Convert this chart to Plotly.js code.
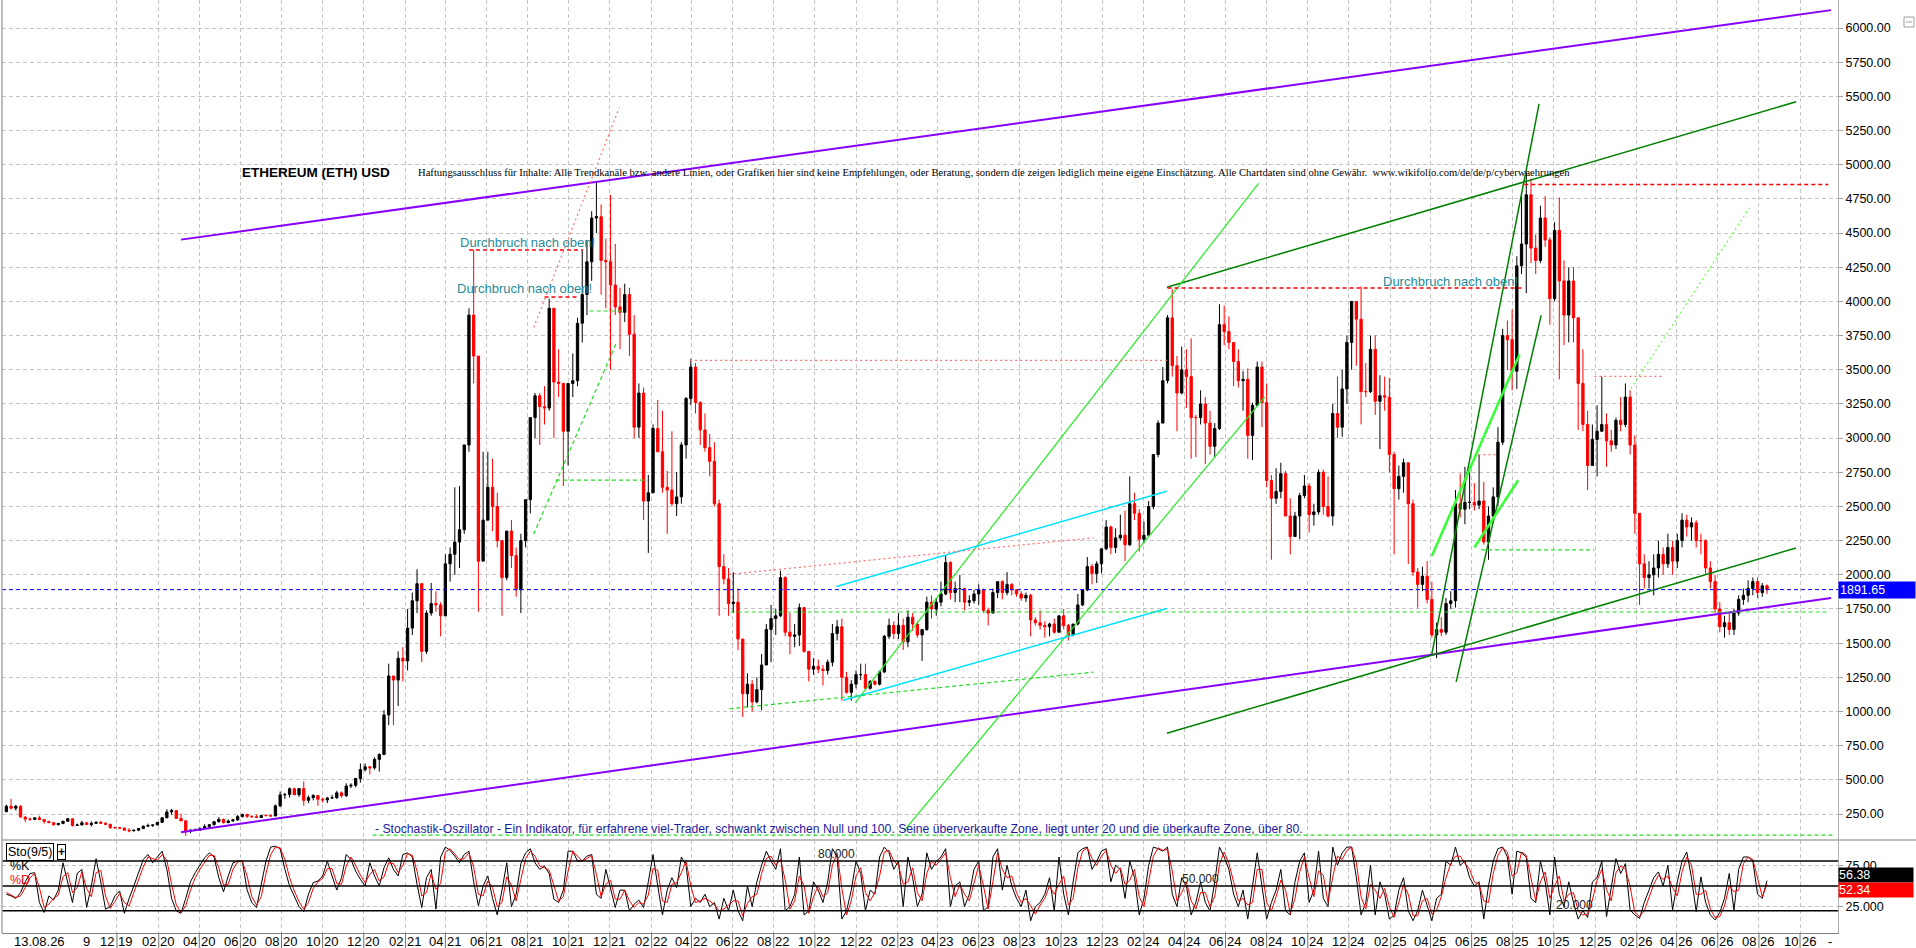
<!DOCTYPE html>
<html>
<head>
<meta charset="utf-8">
<script src="https://cdn.plot.ly/plotly-3.0.1.min.js"></script>
<style>html,body{margin:0;padding:0;background:#fff;} #chart{width:1916px;height:948px;}</style>
</head>
<body>
<div id="chart"></div>
<script>
// ETH/USD weekly bars (Mon-Sun week, drawn on its Thursday)
const firstWeek = '2019-06-20';
const firstOpen = 268;
const weekHigh = [
 318,361,316,315,233,225,223,237,214,200,192,185,200,222,218,180,200,190,196,193,198,190,177,159,152,151,147,133,145,
 166,180,172,189,224,285,287,280,254,202,140,145,150,175,175,198,227,216,210,215,244,253,251,240,246,240,248,245,320,415,405,445,442,440,488,385,396,385,370,375,390,420,415,475,475,515,620,620,600,665,695,1010,
 1350,1260,1440,1470,1750,1870,2040,1940,1740,1940,1880,1800,2150,2200,2640,2650,2950,3950,4380,3600,2900,2900,2850,2600,2250,2300,2400,2200,2300,2550,3150,3330,3330,3380,4020,3950,3650,3400,3400,3620,3880,4370,4450,4660,4870,4710,4460,4780,4420,4100,4130,4100,
 3900,3400,3370,2730,3100,3280,3200,2760,3050,2750,2970,3300,3580,3550,3270,3180,3030,2970,2550,2150,2050,2020,1900,1530,1280,1230,1250,1420,1640,1780,1750,2030,1990,1720,1640,1790,1760,1440,1390,1380,1340,1380,1640,1670,1680,1290,1230,1300,1350,1350,1230,1230,
 1300,1560,1680,1660,1720,1680,1740,1720,1660,1600,1840,1850,1830,1950,2140,2100,1950,2000,1900,1850,1890,1930,1900,1760,1900,1950,1960,2020,1940,1880,1880,1870,1860,1690,1740,1660,1650,1680,1700,1750,1640,1640,1860,1880,2130,2080,2100,2190,2400,2360,2340,2440,
 2470,2720,2600,2480,2390,2540,2880,3130,3520,3900,4090,3600,3670,3650,3730,3170,3350,3300,3200,3110,3980,3970,3890,3700,3650,3490,3510,3260,3560,3560,3400,2730,2780,2820,2760,2560,2460,2600,2730,2670,2520,2770,2770,2720,3250,3450,3500,3750,4000,4000,4110,3550,3750,
 3750,3460,3450,3440,2900,2800,2850,2820,2550,2050,2060,2100,1950,1650,1690,1830,1880,2620,2740,2790,2790,2670,2880,2680,2500,2640,3080,3800,3860,3940,4330,4790,4950,4900,4490,4700,4770,4470,4580,4760,4300,4250,4250,3880,3650,3200,3100,3240,3450,3180,3060,3150,
 3300,3400,3350,3020,2450,2150,2100,2150,2250,2200,2300,2250,2300,2450,2440,2420,2400,2300,2260,2100,2000,1800,1700,1720,1750,1850,1900,1960,1980,1980,1940,1930
];
const weekLow = [
 262,282,275,225,190,200,205,205,180,185,164,168,175,195,158,165,167,172,158,177,181,172,140,143,143,130,117,123,125,
 140,157,155,167,185,220,245,215,198,90,110,125,126,145,145,166,187,180,183,195,200,225,220,225,220,223,236,230,234,300,360,370,390,375,310,330,350,310,335,330,360,360,370,375,440,445,480,560,540,575,560,690,
 900,900,1040,1220,1300,1560,1720,1360,1420,1700,1730,1550,1700,1950,2000,2050,2300,2900,3400,1730,2100,2400,2320,2200,1700,1960,2050,1840,1720,2200,2450,3000,2950,3100,3200,3000,3300,2650,2800,3300,3380,3700,3900,4150,4500,4050,3950,3500,3900,3650,3850,3600,
 3000,3000,2400,2160,2600,2900,2600,2300,2500,2430,2520,2850,3240,3180,2950,2900,2720,2500,1700,1930,1700,1720,1450,960,1030,1000,1060,1010,1340,1360,1560,1690,1550,1420,1470,1480,1430,1220,1270,1280,1190,1270,1330,1520,1080,1130,1080,1170,1230,1160,1160,1190,
 1190,1280,1530,1530,1530,1450,1470,1590,1540,1370,1590,1680,1700,1770,1850,1820,1800,1800,1740,1770,1790,1780,1720,1630,1720,1830,1820,1850,1850,1840,1810,1800,1550,1630,1600,1540,1550,1570,1580,1600,1520,1550,1630,1770,1880,1930,1940,2010,2180,2150,2160,2250,
 2100,2210,2400,2170,2230,2290,2480,2860,3110,3400,3450,3050,3320,3220,2850,2860,3100,2810,2880,2860,3060,3680,3650,3380,3370,3200,2850,2840,3240,3080,2640,2110,2520,2560,2430,2150,2280,2260,2560,2310,2360,2440,2440,2420,2360,3000,3010,3250,3500,3530,3100,3300,3330,
 3170,2920,3200,2750,2150,2550,2600,2080,1990,1760,1880,1790,1540,1390,1550,1560,1750,1760,2420,2370,2480,2470,2480,2220,2110,2390,2500,2950,3500,3350,3360,4200,4060,4280,4200,4280,4400,3830,4000,3430,3680,3700,3700,3060,3050,2620,2800,2720,3050,2790,2900,2920,
 3050,3080,2880,2300,1780,1900,1900,1850,1980,2000,2050,2000,2050,2200,2280,2250,2200,2150,2000,1900,1720,1580,1540,1560,1560,1700,1780,1800,1850,1830,1840,1860
];
const weekClose = [
 307,293,307,228,213,211,222,210,196,187,172,181,197,215,166,170,186,173,182,190,183,175,151,150,147,132,127,132,144,
 161,166,170,189,223,265,275,218,200,123,131,132,145,158,172,194,211,187,199,207,231,247,233,230,225,240,238,236,310,390,392,435,391,436,350,370,385,358,353,367,369,405,384,455,460,510,575,595,588,650,685,975,
 1260,1230,1390,1370,1610,1810,1935,1440,1720,1790,1780,1700,2080,2150,2240,2330,2950,3900,3600,2100,2400,2640,2500,2250,1980,2320,2140,1890,2250,2550,3150,3310,3230,3220,3950,3410,3400,3050,3400,3420,3840,4050,4290,4610,4620,4300,4290,4120,3960,3920,4050,3760,
 3080,3330,2540,2600,3070,2900,2640,2620,2520,2570,2950,3290,3520,3260,3060,2930,2830,2520,2060,1970,1790,1800,1530,1130,1200,1070,1160,1340,1600,1680,1700,1980,1580,1550,1560,1760,1440,1310,1330,1310,1300,1360,1570,1620,1250,1140,1200,1270,1270,1170,1220,1200,
 1290,1550,1630,1570,1630,1510,1690,1640,1560,1600,1800,1750,1800,1860,2090,1870,1900,1900,1800,1810,1860,1890,1740,1720,1870,1950,1870,1930,1890,1860,1830,1850,1670,1650,1630,1620,1640,1580,1700,1630,1560,1640,1780,1890,2060,2010,2080,2190,2350,2200,2270,2290,
 2220,2520,2450,2260,2290,2500,2880,3110,3420,3880,3530,3330,3500,3450,3150,3150,3250,3110,2940,3070,3830,3780,3700,3560,3420,3430,3020,3240,3520,3260,2690,2560,2610,2740,2430,2280,2430,2580,2650,2440,2460,2750,2500,2430,3180,3080,3360,3700,4000,3870,3340,3340,3650,
 3270,3310,3300,2880,2630,2720,2820,2520,2020,1930,1990,1820,1560,1600,1580,1790,1810,2520,2480,2530,2530,2510,2540,2240,2430,2570,2970,3750,3720,3490,4260,4420,4780,4390,4300,4610,4450,4020,4520,4150,3900,4150,3880,3400,3100,2800,2990,3050,3100,2980,2950,3130,
 3100,3300,2950,2450,2080,1980,2000,2050,2150,2080,2200,2100,2250,2400,2350,2380,2250,2250,2050,1950,1750,1620,1650,1600,1720,1820,1850,1900,1950,1870,1920,1891.65
];

// Stochastic (9/5), one reading per week
const stochK = [
 40,38,35,42,55,65,66,30,18,38, 33,45,78,55,30,65,70,24,50,83, 55,22,25,38,44,17,35,50,65,82, 88,78,85,92,70,35,20,17,35,55,
 66,75,84,90,85,60,43,62,78,80, 80,45,30,24,50,80,97,98,95,70, 50,38,25,19,40,54,56,62,80,62, 45,60,88,82,68,58,50,78,62,50,
 72,84,70,62,88,90,85,52,24,60, 70,22,85,97,93,86,78,88,92,55, 26,50,62,35,15,45,78,25,40,77, 90,95,78,70,74,65,34,30,45,92,
 92,80,80,86,88,40,35,70,45,24, 45,45,20,28,33,24,55,88,50,15, 45,60,48,85,75,25,35,
 30,40,25,30,10,35,20,45,20,8, 50,25,55,75,92,80,70,95,20,25, 40,85,15,20,55,45,30,55,95,85, 10,20,45,80,65,20,45,40,
 85,97,90,70,80,25,85,60,25,40, 90,70,80,85,95,25,50,55,25,40, 70,80,20,25,85,95,45,75,50,35, 25,45,8,25,30,40,60,20,85,40, 15,55,90,95,97,70,80,92,95,55, 75,70,
 35,80,60,15,35,75,97,95,92,97, 40,25,60,50,15,30,55,30,20,55, 97,85,70,40,25,45,10,50,90,50, 10,30,45,70,20,15,55,80,90,30, 45,92,35,25,97,75,90,97,97,60, 15,30,75,
 15,55,40,10,15,45,60,20,8,20, 45,25,8,35,40,80,75,97,75,80, 60,50,55,10,50,80,95,97,85,40, 92,90,85,35,30,80,55,15,85,40, 25,55,30,10,20,12,55,60,80,13, 50,83,
 65,77,21,15,11,30,45,60,67,50, 75,21,55,80,91,60,19,61,30,15, 9,18,35,65,21,70,85,85,80,40, 35,56.38
];
const stochD = [
 42,39,36,38,48,60,65,48,24,28, 35,39,61,66,42,48,67,47,37,66, 69,38,23,31,41,30,26,42,57,73, 85,83,81,88,81,52,27,18,26,45,
 60,70,79,87,87,72,51,52,70,79, 80,62,37,27,37,65,88,97,96,82, 60,44,31,22,30,47,55,59,71,71, 53,52,74,85,75,63,54,64,70,56,
 61,78,77,66,75,89,87,68,38,42, 65,46,53,91,95,89,82,83,90,73, 40,38,56,48,25,30,61,51,32,58, 83,92,86,74,72,69,50,32,37,68,
 92,86,80,83,87,64,37,52,57,34, 34,45,32,24,30,28,39,71,69,32, 30,52,54,66,80,50,30,
 32,35,32,27,20,22,27,32,32,14, 29,37,40,65,83,86,75,82,57,22, 32,62,50,17,37,50,37,42,75,90, 47,15,32,62,72,42,32,42,
 62,91,93,80,75,52,55,72,42,32, 65,80,75,82,90,60,37,52,40,32, 55,75,50,22,55,90,70,60,62,42, 30,35,26,16,27,35,50,40,52,62, 27,35,72,92,96,83,75,86,93,75, 65,72,
 52,57,70,37,25,55,86,96,93,94, 68,32,42,55,32,22,42,42,25,37, 76,91,77,55,32,35,27,30,70,70, 30,20,37,57,45,17,35,67,85,60, 37,68,63,30,61,86,82,93,97,78, 37,22,52,
 45,35,47,25,12,30,52,40,14,14, 32,35,16,21,37,60,77,86,86,77, 70,55,52,32,30,65,87,96,91,62, 66,91,87,60,32,55,67,35,50,62, 32,40,42,20,15,16,33,57,70,46, 32,66,
 74,71,49,18,13,20,37,52,63,58, 62,48,38,67,85,75,40,40,45,22, 12,13,26,50,43,45,77,85,82,60, 37,52.34
];
const stochLevels = [20, 50, 80];

const xTickDates = ['2019-12-01','2020-02-01','2020-04-01','2020-06-01','2020-08-01','2020-10-01','2020-12-01',
 '2021-02-01','2021-04-01','2021-06-01','2021-08-01','2021-10-01','2021-12-01','2022-02-01','2022-04-01','2022-06-01','2022-08-01','2022-10-01','2022-12-01',
 '2023-02-01','2023-04-01','2023-06-01','2023-08-01','2023-10-01','2023-12-01','2024-02-01','2024-04-01','2024-06-01','2024-08-01','2024-10-01','2024-12-01',
 '2025-02-01','2025-04-01','2025-06-01','2025-08-01','2025-10-01','2025-12-01','2026-02-01','2026-04-01','2026-06-01','2026-08-01','2026-10-01'];
const xTickText = ['12 19','02 20','04 20','06 20','08 20','10 20','12 20',
 '02 21','04 21','06 21','08 21','10 21','12 21','02 22','04 22','06 22','08 22','10 22','12 22',
 '02 23','04 23','06 23','08 23','10 23','12 23','02 24','04 24','06 24','08 24','10 24','12 24',
 '02 25','04 25','06 25','08 25','10 25','12 25','02 26','04 26','06 26','08 26','10 26'];

// hand-drawn trend lines: start / end (date, price) and kind
const trendFrom    = ['2020-03-05','2020-03-05','2024-03-06','2024-03-06','2025-04-03','2025-05-09','2025-04-03','2025-06-05','2022-11-30','2023-02-10','2022-11-02','2022-11-12',
 '2021-05-06','2021-08-26','2024-03-07','2025-08-18','2022-03-30','2022-05-27','2021-08-10','2021-08-10','2021-09-12','2021-11-01','2022-05-27','2022-05-29','2025-06-15','2020-12-14','2026-01-23','2025-11-30','2025-06-11'];
const trendFromVal = [4452,117,4104,841,1422,1217,2137,2200,1065,126,1914,1082,
 4376,4032,4098,4855,3568,2003,3809,2298,2692,3930,1020,1728,2182,96,3362,3451,2879];
const trendTo      = ['2026-11-16','2026-11-16','2026-09-25','2026-09-25','2025-09-09','2025-09-12','2025-08-11','2025-08-09','2024-07-20','2024-07-29','2024-03-06','2024-03-06',
 '2021-10-22','2021-10-14','2025-08-14','2026-11-12','2024-03-06','2023-11-18','2021-12-15','2021-12-11','2022-01-26','2021-12-19','2023-11-18','2026-11-14','2025-11-30','2026-11-18','2026-07-18','2026-03-10','2025-07-08'];
const trendToVal   = [6131,1830,5460,2196,5445,3898,3612,2692,4864,3300,2611,1753,
 4376,4032,4098,4855,3568,2271,5418,3702,2692,3930,1288,1728,2182,96,4685,3451,2879];
const trendKind    = ['purple','purple','dkgreen','dkgreen','dkgreen','dkgreen','limeThick','limeThick','lime','lime','cyan','cyan',
 'redDash','redDash','redDash','redDash','pinkDot','pinkDot','pinkDot','greenDash','greenDash','greenDash','greenDash','greenDash','greenDash','greenDash','limeDot','pinkDot','pinkDot'];

const titleText = 'ETHEREUM (ETH) USD';
const disclaimer = 'Haftungsausschluss für Inhalte: Alle Trendkanäle bzw. andere Linien, oder Grafiken hier sind keine Empfehlungen, oder Beratung, sondern die zeigen lediglich meine eigene Einschätzung. Alle Chartdaten sind ohne Gewähr.  www.wikifolio.com/de/de/p/cyberwaehrungen';
const stochNote = '- Stochastik-Oszillator - Ein Indikator, für erfahrene viel-Trader, schwankt zwischen Null und 100. Seine überverkaufte Zone, liegt unter 20 und die überkaufte Zone, über 80.';
const breakoutText = 'Durchbruch nach oben!';
const breakoutAt = [['2021-08-01', 4434], ['2021-07-28', 4098], ['2025-05-01', 4149]];

const lineStyles = {
  purple: {color: '#8800ff', width: 2},
  dkgreen: {color: '#008000', width: 1.5},
  lime: {color: '#22ee22', width: 1.2},
  limeThick: {color: '#33ff33', width: 2.5},
  cyan: {color: '#00e0ff', width: 1.5},
  redDash: {color: '#ff0000', width: 1.5, dash: '4px,3px'},
  pinkDot: {color: '#ff7070', width: 1.2, dash: '2px,3px'},
  greenDash: {color: '#22dd22', width: 1.2, dash: '4px,3px'},
  limeDot: {color: '#66ff44', width: 1.2, dash: '2px,3px'}
};

const weekDates = weekClose.map((_, i) => new Date(Date.parse(firstWeek) + i * 7 * 864e5).toISOString().slice(0, 10));
const weekOpen = weekClose.map((c, i) => i === 0 ? firstOpen : weekClose[i - 1]);
const lastClose = weekClose[weekClose.length - 1];
if (weekHigh.length !== weekClose.length || weekLow.length !== weekClose.length || stochK.length !== weekClose.length || stochD.length !== weekClose.length)
  console.error('length mismatch', weekHigh.length, weekLow.length, weekClose.length, stochK.length, stochD.length);

// pixel helpers for the fixed decorations (plot area: x 2..1838, y 0..933)
const px = p => (p - 2) / 1836;
const py = p => (933 - p) / 933;
const splitY = 93 / 933;

const traces = [
  {type: 'candlestick', x: weekDates, open: weekOpen, high: weekHigh, low: weekLow, close: weekClose, xaxis: 'x', yaxis: 'y',
   increasing: {line: {color: '#000000', width: 1}, fillcolor: '#000000'},
   decreasing: {line: {color: '#ff0000', width: 1}, fillcolor: '#ff0000'},
   whiskerwidth: 0, hoverinfo: 'skip'},
  {type: 'scatter', mode: 'lines', x: weekDates, y: stochK, xaxis: 'x', yaxis: 'y2', line: {color: '#000000', width: 1}, hoverinfo: 'skip'},
  {type: 'scatter', mode: 'lines', x: weekDates, y: stochD, xaxis: 'x', yaxis: 'y2', line: {color: '#ff0000', width: 1}, hoverinfo: 'skip'}
];

const shapes = [];
trendFrom.forEach((d, i) => {
  const s = lineStyles[trendKind[i]];
  shapes.push({type: 'line', xref: 'x', yref: 'y', x0: d, y0: trendFromVal[i], x1: trendTo[i], y1: trendToVal[i], layer: 'above',
    line: {color: s.color, width: s.width, dash: s.dash || 'solid'}});
});
shapes.push({type: 'line', xref: 'paper', yref: 'y', x0: 0, x1: 1, y0: lastClose, y1: lastClose, line: {color: '#0000ff', width: 1, dash: '4px,3px'}});
stochLevels.forEach(v => shapes.push({type: 'line', xref: 'paper', yref: 'y2', x0: 0, x1: 1, y0: v, y1: v, line: {color: '#000000', width: 1.5}}));
shapes.push({type: 'line', xref: 'paper', yref: 'paper', x0: 0, x1: px(1916), y0: splitY, y1: splitY, line: {color: '#a8a8a8', width: 1.5}});
shapes.push({type: 'line', xref: 'paper', yref: 'paper', x0: 0, x1: 0, y0: 0, y1: 1, line: {color: '#a8a8a8', width: 1.5}});
xTickDates.forEach(d => shapes.push({type: 'line', xref: 'x', yref: 'paper', x0: d, x1: d, y0: py(948), y1: 0, line: {color: '#707070', width: 1}}));
shapes.push({type: 'rect', xref: 'paper', yref: 'paper', x0: px(1904), x1: px(1914), y0: py(27), y1: py(17), line: {color: '#a0a0a0', width: 1}});
shapes.push({type: 'line', xref: 'paper', yref: 'paper', x0: px(1906), x1: px(1912), y0: py(22), y1: py(22), line: {color: '#a0a0a0', width: 1}});

const note = (text, x, y, extra) => Object.assign({text, xref: 'paper', yref: 'paper', x, y, xanchor: 'left', yanchor: 'middle', showarrow: false}, extra);
const annotations = [
  note('<b>' + titleText + '</b>', px(240), py(173), {font: {size: 13.5, color: '#000'}}),
  note(disclaimer, px(416), py(173), {font: {family: 'Liberation Serif, Times New Roman, serif', size: 10.6, color: '#000'}}),
  note(stochNote, px(373), py(829), {font: {size: 12.2, color: '#1c1ca0'}}),
  note('Sto(9/5)', px(6), py(852), {font: {size: 12.5}, bordercolor: '#000', borderwidth: 1, borderpad: 1, bgcolor: '#fff'}),
  note('<b>+</b>', px(57), py(852), {font: {size: 12}, bordercolor: '#000', borderwidth: 1, borderpad: 0, bgcolor: '#fff'}),
  note('%K', px(8), py(866), {font: {size: 12.5, color: '#000'}}),
  note('%D', px(8), py(880), {font: {size: 12.5, color: '#ff0000'}}),
  note('13.08.26', px(12), py(941), {font: {size: 13}}),
  note('9', px(81), py(941), {font: {size: 13}}),
  note('-', px(1826), py(941), {font: {size: 13}}),
  {text: '80.000', xref: 'paper', yref: 'y2', x: px(836), y: 80, yshift: 7, xanchor: 'center', showarrow: false, font: {size: 12, color: '#222'}},
  {text: '50.000', xref: 'paper', yref: 'y2', x: px(1200), y: 50, yshift: 7, xanchor: 'center', showarrow: false, font: {size: 12, color: '#222'}},
  {text: '20.000', xref: 'paper', yref: 'y2', x: px(1574), y: 20, yshift: 6, xanchor: 'center', showarrow: false, font: {size: 12, color: '#222'}},
  {text: lastClose.toFixed(2), xref: 'paper', yref: 'y', x: 1, y: lastClose, xanchor: 'left', yanchor: 'middle', showarrow: false,
   bgcolor: '#0000ff', font: {size: 12.5, color: '#ffffff'}, width: 74, align: 'left', borderpad: 1},
  {text: stochK[stochK.length - 1].toFixed(2), xref: 'paper', yref: 'y2', x: 1, y: stochK[stochK.length - 1], yshift: 6, xanchor: 'left', yanchor: 'middle', showarrow: false,
   bgcolor: '#000000', font: {size: 12.5, color: '#ffffff'}, width: 74, align: 'left', borderpad: 0},
  {text: stochD[stochD.length - 1].toFixed(2), xref: 'paper', yref: 'y2', x: 1, y: stochD[stochD.length - 1], yshift: -6, xanchor: 'left', yanchor: 'middle', showarrow: false,
   bgcolor: '#ff0000', font: {size: 12.5, color: '#ffffff'}, width: 74, align: 'left', borderpad: 0}
];
// x tick labels drawn as notes so they sit inside the 15px strip under the panels
xTickDates.forEach((d, i) => annotations.push({text: xTickText[i], xref: 'x', yref: 'paper', x: d, y: py(941), xanchor: 'center', yanchor: 'middle',
  showarrow: false, font: {size: 13, color: '#000'}}));
breakoutAt.forEach(([d, v]) => annotations.push({text: breakoutText, xref: 'x', yref: 'y', x: d, y: v, xanchor: 'center', yanchor: 'middle', showarrow: false,
  font: {size: 13, color: '#1f8b9b'}}));

const grid = {showgrid: true, gridcolor: '#c4c4c4', griddash: '4px,3px', gridwidth: 1, zeroline: false, fixedrange: true};
const layout = {
  width: 1916, height: 948,
  margin: {l: 2, r: 78, t: 0, b: 15},
  paper_bgcolor: '#ffffff', plot_bgcolor: '#ffffff',
  showlegend: false,
  font: {family: 'Liberation Sans, Arial, sans-serif', size: 13, color: '#000'},
  xaxis: Object.assign({}, grid, {type: 'date', range: ['2019-06-13 12:00', '2026-11-26 07:00'], anchor: 'y2',
    tickvals: xTickDates, showticklabels: false, ticks: '', showline: true, linecolor: '#808080',
    rangeslider: {visible: false}}),
  yaxis: Object.assign({}, grid, {domain: [splitY, 1], side: 'right', anchor: 'x', range: [60, 6205], tick0: 0, dtick: 250, tickformat: '.2f',
    ticks: 'outside', ticklen: 4, tickcolor: '#a0a0a0', showline: true, linecolor: '#b0b0b0', tickfont: {size: 12.5}}),
  yaxis2: Object.assign({}, grid, {domain: [0, splitY], side: 'right', anchor: 'x', range: [-6.8, 105.5], tickvals: [25, 75], ticktext: ['25.000', '75.00'],
    ticks: 'outside', ticklen: 4, tickcolor: '#a0a0a0', showline: true, linecolor: '#b0b0b0', tickfont: {size: 12.5}}),
  shapes, annotations
};

Plotly.newPlot('chart', traces, layout, {displayModeBar: false, staticPlot: true});
</script>
</body>
</html>
